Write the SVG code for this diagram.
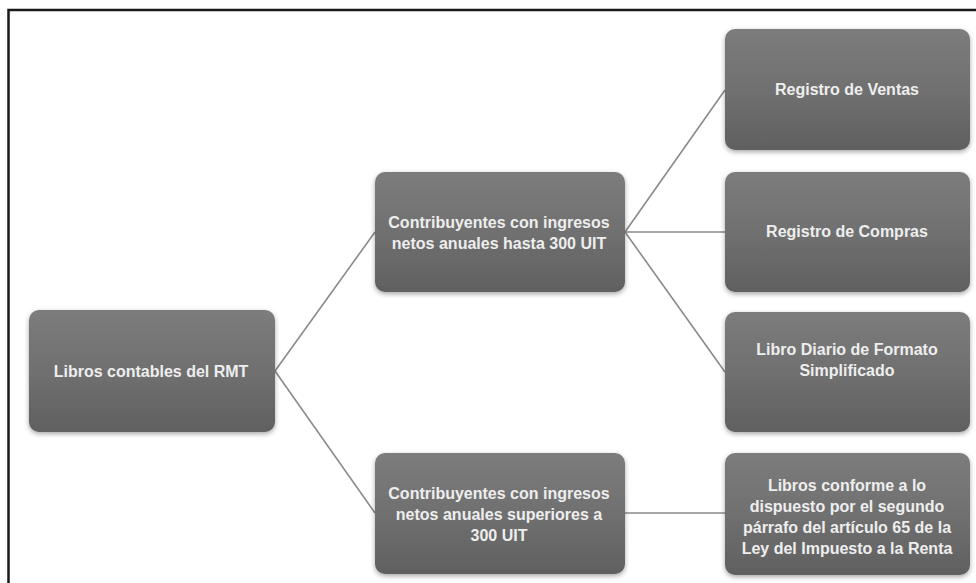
<svg xmlns="http://www.w3.org/2000/svg" width="976" height="583" viewBox="0 0 976 583">
  <defs>
    <linearGradient id="boxFill" x1="0" y1="0" x2="0" y2="1">
      <stop offset="0" stop-color="#7c7c7c"/>
      <stop offset="0.5" stop-color="#707070"/>
      <stop offset="1" stop-color="#606060"/>
    </linearGradient>
    <filter id="shadow" x="-10%" y="-10%" width="120%" height="125%">
      <feDropShadow dx="0" dy="2" stdDeviation="2.5" flood-color="#000" flood-opacity="0.35"/>
    </filter>
  </defs>
  <style>
    .box { fill: url(#boxFill); filter: url(#shadow); }
    .label { font-family: "Liberation Sans", Arial, sans-serif; font-size: 16px; font-weight: bold; fill: #eeeeee; text-anchor: middle; }
    .link { stroke: #8a8a8a; stroke-width: 1.6; fill: none; }
  </style>

  <rect width="976" height="583" fill="#ffffff"/>
  <!-- outer frame (runs off the right and bottom edges) -->
  <rect x="8.5" y="10" width="980" height="600" fill="none" stroke="#1a1a1a" stroke-width="2.5"/>

  <g id="connectors">
    <line class="link" x1="275" y1="371" x2="375" y2="232"/>
    <line class="link" x1="275" y1="371" x2="375" y2="513"/>
    <line class="link" x1="625" y1="232" x2="725" y2="90"/>
    <line class="link" x1="625" y1="232" x2="725" y2="232"/>
    <line class="link" x1="625" y1="232" x2="725" y2="372"/>
    <line class="link" x1="625" y1="513" x2="725" y2="513"/>
  </g>

  <g id="root">
    <rect class="box" x="29" y="310" width="246" height="122" rx="10"/>
    <text class="label" x="151" y="377">Libros contables del RMT</text>
  </g>

  <g id="hasta300">
    <rect class="box" x="375" y="172" width="250" height="120" rx="10"/>
    <text class="label" x="499" y="228">Contribuyentes con ingresos</text>
    <text class="label" x="499" y="249">netos anuales hasta 300 UIT</text>
  </g>

  <g id="superiores300">
    <rect class="box" x="375" y="453" width="250" height="121" rx="10"/>
    <text class="label" x="499" y="499">Contribuyentes con ingresos</text>
    <text class="label" x="499" y="520">netos anuales superiores a</text>
    <text class="label" x="499" y="541">300 UIT</text>
  </g>

  <g id="ventas">
    <rect class="box" x="725" y="29" width="245" height="121" rx="10"/>
    <text class="label" x="847" y="95">Registro de Ventas</text>
  </g>

  <g id="compras">
    <rect class="box" x="725" y="172" width="245" height="120" rx="10"/>
    <text class="label" x="847" y="237">Registro de Compras</text>
  </g>

  <g id="diario">
    <rect class="box" x="725" y="312" width="245" height="120" rx="10"/>
    <text class="label" x="847" y="355">Libro Diario de Formato</text>
    <text class="label" x="847" y="376">Simplificado</text>
  </g>

  <g id="libros65">
    <rect class="box" x="725" y="453" width="245" height="122" rx="10"/>
    <text class="label" x="847" y="491">Libros conforme a lo</text>
    <text class="label" x="847" y="512">dispuesto por el segundo</text>
    <text class="label" x="847" y="533">párrafo del artículo 65 de la</text>
    <text class="label" x="847" y="554">Ley del Impuesto a la Renta</text>
  </g>
</svg>
